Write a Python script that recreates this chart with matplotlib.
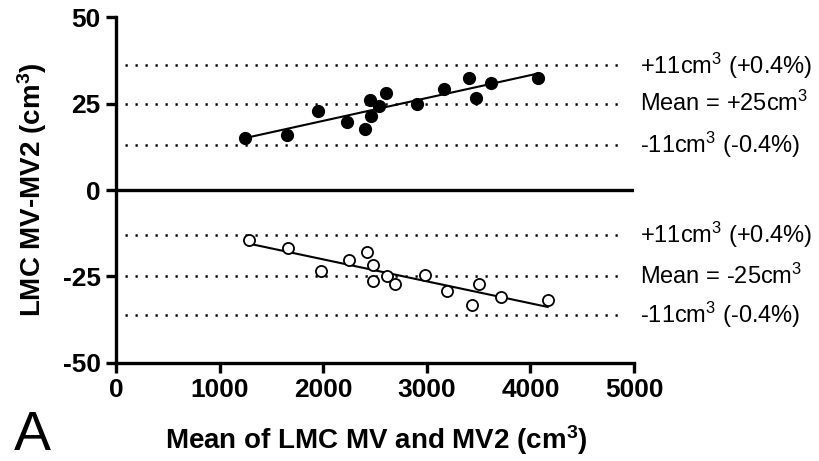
import matplotlib
matplotlib.use("Agg")
import matplotlib.pyplot as plt
import numpy as np

plt.rcParams['font.family'] = ['Liberation Sans', 'DejaVu Sans']
plt.rcParams['mathtext.default'] = 'regular'
plt.rcParams['axes.unicode_minus'] = False

# upper group (filled circles)
x_up = [1245, 1648, 1952, 2230, 2400, 2452, 2458, 2542, 2603, 2905, 3166, 3411, 3475, 3620, 4070]
y_up = [14.9, 15.8, 22.8, 19.7, 17.7, 26.0, 21.4, 24.2, 28.1, 24.9, 29.1, 32.4, 26.7, 31.0, 32.3]

# lower group (open circles)
x_lo = [1287, 1664, 1979, 2252, 2426, 2478, 2478, 2619, 2690, 2979, 3198, 3440, 3504, 3713, 4167]
y_lo = [-14.5, -16.8, -23.4, -20.2, -17.9, -21.8, -26.2, -24.9, -27.1, -24.6, -29.3, -33.2, -27.2, -30.9, -31.8]

# reference lines and their labels
ref_up = [36, 25, 13]
ref_lo = [-13, -25, -36]
lab_up = [r'+11cm$^3$ (+0.4%)', r'Mean = +25cm$^3$', r'-11cm$^3$ (-0.4%)']
lab_lo = [r'+11cm$^3$ (+0.4%)', r'Mean = -25cm$^3$', r'-11cm$^3$ (-0.4%)']

xticks = [0, 1000, 2000, 3000, 4000, 5000]
yticks = [-50, -25, 0, 25, 50]

fig = plt.figure(figsize=(8.2, 4.61), dpi=100)
ax = fig.add_axes([0.1415, 0.2126, 0.6317, 0.7505])

for yv in ref_up + ref_lo:
    ax.plot([90, 4910], [yv, yv], color='black', lw=1.8, linestyle=(0, (0.9, 3.1)))

for yv, lab in zip(ref_up + ref_lo, lab_up + lab_lo):
    ax.text(5055, yv, lab, fontsize=17, va='center', ha='left', clip_on=False)

ax.axhline(0, color='black', lw=2.4)

# regression lines
for xs, ys in [(x_up, y_up), (x_lo, y_lo)]:
    xs = np.array(xs)
    k, b = np.polyfit(xs, ys, 1)
    xx = np.array([xs.min(), xs.max()])
    ax.plot(xx, k * xx + b, color='black', lw=1.5, zorder=3)

ax.plot(x_up, y_up, 'o', color='black', markersize=8.5, zorder=4)
ax.plot(x_lo, y_lo, 'o', markerfacecolor='white', markeredgecolor='black',
        markeredgewidth=1.3, markersize=8, zorder=4)

ax.set_xlim(0, 5000)
ax.set_ylim(-50, 50)
ax.set_xticks(xticks)
ax.set_xticklabels([str(v) for v in xticks], fontsize=19, fontweight='bold')
ax.set_yticks(yticks)
ax.set_yticklabels([str(v) for v in yticks], fontsize=19, fontweight='bold')
for s in ['top', 'right']:
    ax.spines[s].set_visible(False)
for s in ['left', 'bottom']:
    ax.spines[s].set_linewidth(2.4)
ax.tick_params(width=2.4, length=7, pad=4)

fig.text(32 / 820, 1 - 190 / 461, r'LMC MV-MV2 (cm$^3$)', rotation=90, fontsize=20,
         fontweight='bold', ha='center', va='center')
fig.text(376 / 820, 1 - 449 / 461, r'Mean of LMC MV and MV2 (cm$^3$)', fontsize=20,
         fontweight='bold', ha='center', va='baseline')
fig.text(14 / 820, 1 - 450 / 461, 'A', fontsize=40, ha='left', va='baseline')

fig.savefig('out.png', dpi=100)
